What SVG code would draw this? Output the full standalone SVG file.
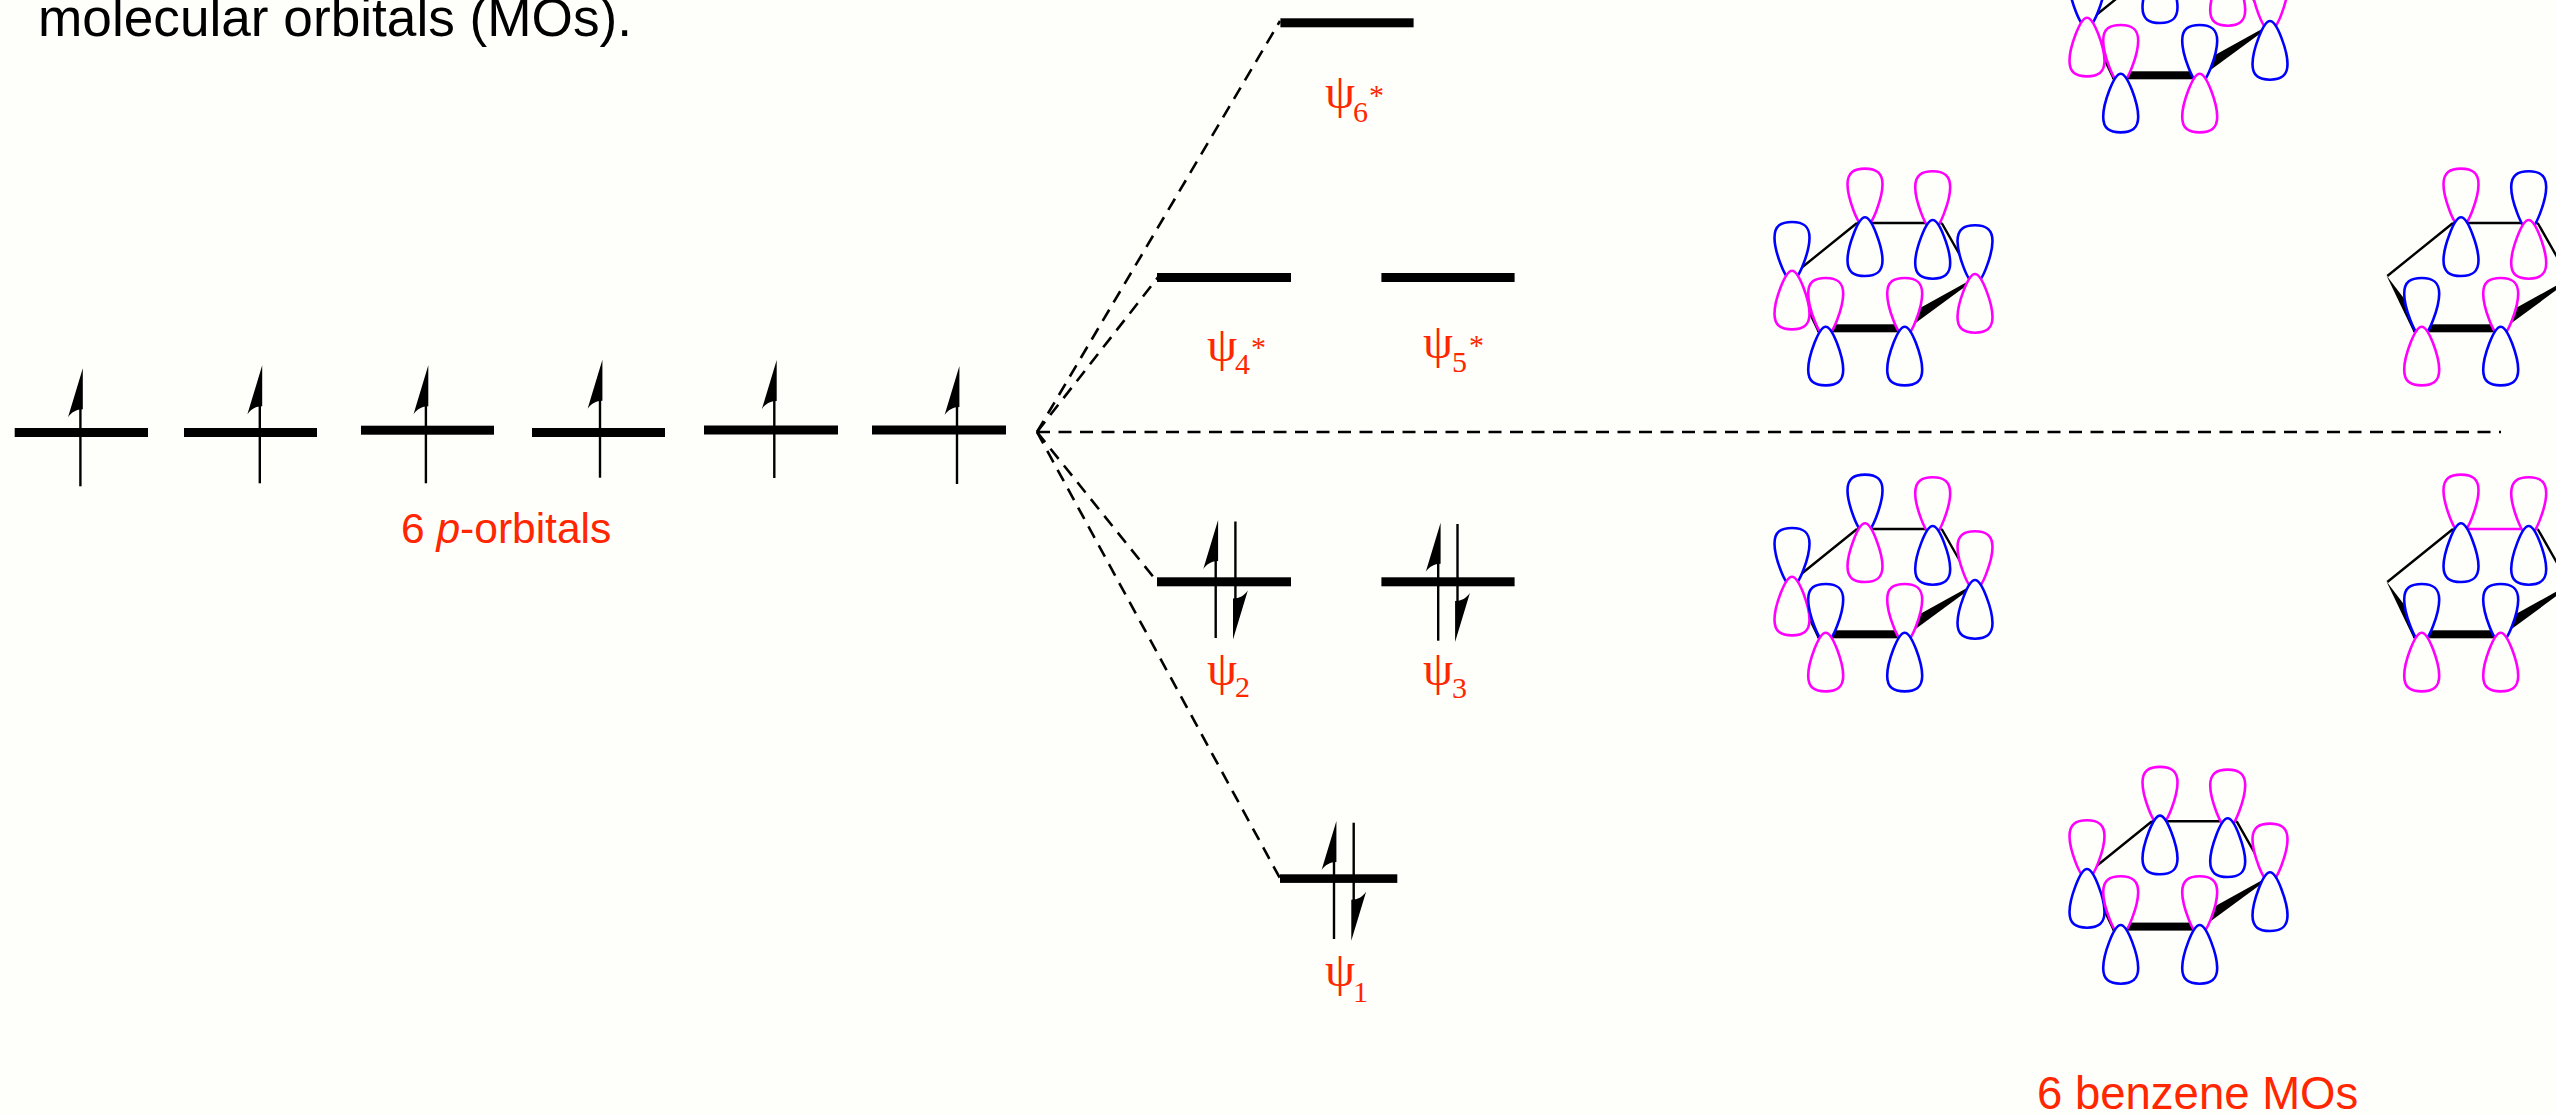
<svg xmlns="http://www.w3.org/2000/svg" width="2556" height="1114" viewBox="0 0 2556 1114">
<style>
.bar{fill:#000}
.stem{stroke:#000;stroke-width:2.4;fill:none}
.dash{stroke:#000;stroke-width:2.6;fill:none;stroke-dasharray:13 8.5}
.b{stroke:#0000ff}
.m{stroke:#ff00ff}
.lobe{fill:#fefffb;stroke-width:2.6}
.bond{stroke:#000;stroke-width:2.4;fill:none}
.red{fill:#ff2600;font-family:"Liberation Sans",Arial,sans-serif;font-size:42.5px}
.psi{fill:#ff2600;font-family:"Liberation Serif","DejaVu Serif",serif;font-size:48px}
.sub{font-size:30px}
.star{font-size:30px}
.head{font-family:"Liberation Sans",Arial,sans-serif;font-size:53.2px;fill:#000}
</style>
<defs>
<path id="low" class="lobe" d="M0,0C7,0 17.5,30 17.5,43C17.5,55 11,58.7 0,58.7C-11,58.7 -17.5,55 -17.5,43C-17.5,30 -7,0 0,0Z"/>
<path id="high" class="lobe" d="M0,10C7,10 17.5,-20 17.5,-33C17.5,-45 11,-48.7 0,-48.7C-11,-48.7 -17.5,-45 -17.5,-33C-17.5,-20 -7,10 0,10Z"/>
<g id="up"><path d="M2.4,0L-12.4,49C-9,44 -4,41 2.4,41Z"/><path class="stem" d="M0,40V118"/></g>
<g id="ring">
<path class="bond" d="M1857,223L1791.3,276M1941.7,223L1973,278"/>
<path d="M1790.5,275.5L1826,322L1817,331Z"/>
<rect x="1817" y="324.3" width="88" height="8"/>
<path d="M1985,272L1903.3,317.3L1903.3,332Z"/>
</g>
<path id="top" class="bond" d="M1857,223H1941.7"/>
</defs>
<rect id="background" width="2556" height="1114" fill="#fefffb"/>
<text id="heading" class="head" x="38" y="36">molecular orbitals (MOs).</text>
<g id="connectors">
<path class="dash" d="M1037,432H2501"/>
<path class="dash" d="M1037,432L1280,21"/>
<path class="dash" d="M1037,432L1159,276"/>
<path class="dash" d="M1037,432L1159,584"/>
<path class="dash" d="M1037,432L1282,882"/>
</g>
<g id="p1"><rect class="bar" x="14.7" y="428" width="133.3" height="9"/><use href="#up" transform="translate(80.4,368.3)"/></g>
<g id="p2"><rect class="bar" x="184" y="428" width="133" height="9"/><use href="#up" transform="translate(259.8,365.3)"/></g>
<g id="p3"><rect class="bar" x="361" y="425.7" width="133" height="9"/><use href="#up" transform="translate(425.9,365.3)"/></g>
<g id="p4"><rect class="bar" x="532" y="428" width="133" height="9"/><use href="#up" transform="translate(600,359.7)"/></g>
<g id="p5"><rect class="bar" x="704" y="425.5" width="134" height="9"/><use href="#up" transform="translate(774.3,360)"/></g>
<g id="p6"><rect class="bar" x="872" y="425.5" width="134" height="9"/><use href="#up" transform="translate(957,366)"/></g>
<text id="p-label" class="red" x="401" y="543">6 <tspan font-style="italic">p</tspan>-orbitals</text>
<g id="level-psi6"><rect class="bar" x="1280.4" y="18.3" width="133.2" height="9"/><text class="psi" x="1325" y="107.5">ψ<tspan class="sub" x="1353" dy="14">6</tspan><tspan class="star" x="1369" dy="-16.7">*</tspan></text></g>
<g id="level-psi4"><rect class="bar" x="1157" y="273" width="134" height="9"/><text class="psi" x="1207" y="360.5">ψ<tspan class="sub" x="1235" dy="13">4</tspan><tspan class="star" x="1251" dy="-16.7">*</tspan></text></g>
<g id="level-psi5"><rect class="bar" x="1381.4" y="273" width="133.2" height="9"/><text class="psi" x="1423" y="357.5">ψ<tspan class="sub" x="1452" dy="14">5</tspan><tspan class="star" x="1469" dy="-16.7">*</tspan></text></g>
<g id="level-psi2"><rect class="bar" x="1157" y="577.3" width="134" height="9"/><use href="#up" transform="translate(1215.7,520)"/><use href="#up" transform="translate(1235.4,639.5) rotate(180)"/><text class="psi" x="1207" y="684.5">ψ<tspan class="sub" x="1235" dy="12.5">2</tspan></text></g>
<g id="level-psi3"><rect class="bar" x="1381.4" y="577.3" width="133.2" height="9"/><use href="#up" transform="translate(1438.2,522.7)"/><use href="#up" transform="translate(1457.5,642) rotate(180)"/><text class="psi" x="1423" y="684.5">ψ<tspan class="sub" x="1452" dy="13.5">3</tspan></text></g>
<g id="level-psi1"><rect class="bar" x="1280" y="874.3" width="117.3" height="8.6"/><use href="#up" transform="translate(1334,821)"/><use href="#up" transform="translate(1353.7,940.7) rotate(180)"/><text class="psi" x="1325" y="986">ψ<tspan class="sub" x="1353" dy="15.7">1</tspan></text></g>
<g id="mo-psi4">
<use href="#ring"/><use href="#top"/>
<use href="#high" class="b" x="1792" y="270.7"/><use href="#low" class="m" x="1792" y="270.7"/>
<use href="#high" class="m" x="1825.7" y="326.7"/><use href="#low" class="b" x="1825.7" y="326.7"/>
<use href="#high" class="m" x="1865" y="217.3"/><use href="#low" class="b" x="1865" y="217.3"/>
<use href="#high" class="m" x="1932.7" y="220"/><use href="#low" class="b" x="1932.7" y="220"/>
<use href="#high" class="m" x="1904.7" y="326.7"/><use href="#low" class="b" x="1904.7" y="326.7"/>
<use href="#high" class="b" x="1975" y="274"/><use href="#low" class="m" x="1975" y="274"/>
</g>
<g id="mo-psi2" transform="translate(0,306)">
<use href="#ring"/><use href="#top"/>
<use href="#high" class="b" x="1792" y="270.7"/><use href="#low" class="m" x="1792" y="270.7"/>
<use href="#high" class="b" x="1825.7" y="326.7"/><use href="#low" class="m" x="1825.7" y="326.7"/>
<use href="#high" class="b" x="1865" y="217.3"/><use href="#low" class="m" x="1865" y="217.3"/>
<use href="#high" class="m" x="1932.7" y="220"/><use href="#low" class="b" x="1932.7" y="220"/>
<use href="#high" class="m" x="1904.7" y="326.7"/><use href="#low" class="b" x="1904.7" y="326.7"/>
<use href="#high" class="m" x="1975" y="274"/><use href="#low" class="b" x="1975" y="274"/>
</g>
<g id="mo-psi1" transform="translate(295,598.3)">
<use href="#ring"/><use href="#top"/>
<use href="#high" class="m" x="1792" y="270.7"/><use href="#low" class="b" x="1792" y="270.7"/>
<use href="#high" class="m" x="1825.7" y="326.7"/><use href="#low" class="b" x="1825.7" y="326.7"/>
<use href="#high" class="m" x="1865" y="217.3"/><use href="#low" class="b" x="1865" y="217.3"/>
<use href="#high" class="m" x="1932.7" y="220"/><use href="#low" class="b" x="1932.7" y="220"/>
<use href="#high" class="m" x="1904.7" y="326.7"/><use href="#low" class="b" x="1904.7" y="326.7"/>
<use href="#high" class="m" x="1975" y="274"/><use href="#low" class="b" x="1975" y="274"/>
</g>
<g id="mo-psi6" transform="translate(295,-253)">
<use href="#ring"/><use href="#top"/>
<use href="#high" class="b" x="1792" y="270.7"/><use href="#low" class="m" x="1792" y="270.7"/>
<use href="#high" class="m" x="1825.7" y="326.7"/><use href="#low" class="b" x="1825.7" y="326.7"/>
<use href="#high" class="m" x="1865" y="217.3"/><use href="#low" class="b" x="1865" y="217.3"/>
<use href="#high" class="b" x="1932.7" y="220"/><use href="#low" class="m" x="1932.7" y="220"/>
<use href="#high" class="b" x="1904.7" y="326.7"/><use href="#low" class="m" x="1904.7" y="326.7"/>
<use href="#high" class="m" x="1975" y="274"/><use href="#low" class="b" x="1975" y="274"/>
</g>
<g id="mo-psi5" transform="translate(596,0)">
<use href="#ring"/><use href="#top"/>
<use href="#high" class="b" x="1825.7" y="326.7"/><use href="#low" class="m" x="1825.7" y="326.7"/>
<use href="#high" class="m" x="1865" y="217.3"/><use href="#low" class="b" x="1865" y="217.3"/>
<use href="#high" class="b" x="1932.7" y="220"/><use href="#low" class="m" x="1932.7" y="220"/>
<use href="#high" class="m" x="1904.7" y="326.7"/><use href="#low" class="b" x="1904.7" y="326.7"/>
</g>
<g id="mo-psi3" transform="translate(596,306)">
<use href="#ring"/><path d="M1857,223H1941.7" fill="none" stroke="#ff00ff" stroke-width="2.4"/>
<use href="#high" class="b" x="1825.7" y="326.7"/><use href="#low" class="m" x="1825.7" y="326.7"/>
<use href="#high" class="m" x="1865" y="217.3"/><use href="#low" class="b" x="1865" y="217.3"/>
<use href="#high" class="m" x="1932.7" y="220"/><use href="#low" class="b" x="1932.7" y="220"/>
<use href="#high" class="b" x="1904.7" y="326.7"/><use href="#low" class="m" x="1904.7" y="326.7"/>
</g>
<text id="mo-label" class="red" style="font-size:45.5px" x="2037" y="1109.3">6 benzene MOs</text>
</svg>
